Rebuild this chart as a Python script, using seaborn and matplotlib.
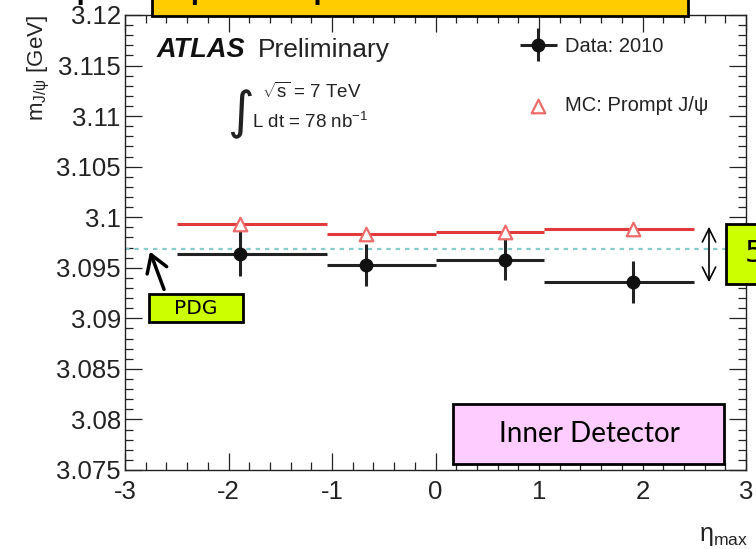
import numpy as np
import pandas as pd
import matplotlib
matplotlib.use("Agg")
import matplotlib.pyplot as plt
import seaborn as sns
from matplotlib.ticker import MultipleLocator, FuncFormatter, FixedLocator
from matplotlib.patches import Rectangle, FancyArrowPatch
from matplotlib.container import ErrorbarContainer
from matplotlib.legend_handler import HandlerErrorbar

# ---------------- data ----------------
bin_lo = [-2.5, -1.05, 0.0, 1.05]
bin_hi = [-1.05, 0.0, 1.05, 2.5]
eta_mean = [-1.89, -0.67, 0.67, 1.91]
data_mass = [3.0964, 3.09525, 3.0958, 3.0936]
data_err = [0.00225, 0.0021, 0.0020, 0.00205]
mc_mass = [3.0993, 3.0983, 3.0985, 3.0988]
pdg_mass = 3.0969
x_ticks = [-3, -2, -1, 0, 1, 2, 3]
y_ticks = [3.075, 3.08, 3.085, 3.09, 3.095, 3.1, 3.105, 3.11, 3.115, 3.12]
legend_labels = ["Data: 2010", "MC: Prompt J/\u03c8"]

df_data = pd.DataFrame({"eta": eta_mean, "m": data_mass, "err": data_err,
                        "lo": bin_lo, "hi": bin_hi})
df_mc = pd.DataFrame({"eta": eta_mean, "m": mc_mass, "lo": bin_lo, "hi": bin_hi})

# ---------------- style ----------------
sns.set_theme(style="ticks")
plt.rcParams["font.family"] = ["Liberation Sans", "DejaVu Sans"]
plt.rcParams["mathtext.fontset"] = "custom"
plt.rcParams["mathtext.rm"] = "Liberation Sans"
plt.rcParams["mathtext.it"] = "Liberation Sans:italic"

W, H = 756, 549
fig = plt.figure(figsize=(W / 100, H / 100), dpi=100)
fig.patch.set_facecolor("white")
ax = fig.add_axes([125 / W, 1 - 470 / H, (746 - 125) / W, (470 - 15) / H])
ax.set_facecolor("white")

RED = "#e23a3a"
TRI = "#f06a6a"

# PDG line
ax.axhline(pdg_mass, color="#86cccc", lw=1.6, ls=(0, (2, 2.2)), zorder=1)

# MC bin lines
ax.hlines(df_mc["m"], df_mc["lo"], df_mc["hi"], color=RED, lw=2.2, zorder=2)

# Data with error bars
xerr = [df_data["eta"] - df_data["lo"], df_data["hi"] - df_data["eta"]]
eb = ax.errorbar(df_data["eta"], df_data["m"], xerr=xerr, yerr=df_data["err"],
                 fmt="o", color="#111111", ecolor="#222222", elinewidth=2.2,
                 ms=9, capsize=0, zorder=4, label=legend_labels[0])

# MC triangles
sns.scatterplot(data=df_mc, x="eta", y="m", marker="^", s=95,
                facecolor="white", edgecolor=TRI, linewidth=1.6,
                zorder=5, ax=ax, label=legend_labels[1])

ax.set_xlim(-3, 3)
ax.set_ylim(3.075, 3.12)
ax.xaxis.set_major_locator(FixedLocator(x_ticks))
ax.xaxis.set_minor_locator(MultipleLocator(0.2))
ax.yaxis.set_major_locator(FixedLocator(y_ticks))
ax.yaxis.set_minor_locator(MultipleLocator(0.001))
ax.yaxis.set_major_formatter(FuncFormatter(lambda v, p: f"{v:g}"))
ax.xaxis.set_major_formatter(FuncFormatter(lambda v, p: f"{v:g}"))
ax.tick_params(which="both", direction="in", top=True, right=True,
               color="#222222", width=0.9)
ax.tick_params(which="major", length=12, labelsize=18.5, labelcolor="#222222")
ax.tick_params(axis="x", which="major", pad=7)
ax.tick_params(axis="y", which="major", pad=3)
ax.tick_params(which="minor", length=6)
for s in ax.spines.values():
    s.set_color("#222222")
    s.set_linewidth(1.0)
ax.grid(False)

ax.set_ylabel(r"m$_{\mathrm{J/\psi}}$ [GeV]", fontsize=16, color="#222222",
              loc="top")
ax.yaxis.set_label_coords(-0.118, 1.0)
ax.set_xlabel("\u03b7$_{\\mathrm{max}}$", fontsize=18, color="#222222", loc="right")
ax.xaxis.set_label_coords(1.003, -0.118)

# legend (Data first, then MC)
handles, labels = ax.get_legend_handles_labels()
order = [labels.index(l) for l in legend_labels]
handles = [handles[i] for i in order]
labels = [labels[i] for i in order]
leg = ax.legend(handles, labels, loc="upper left", bbox_to_anchor=(0.635, 0.952),
                frameon=False, fontsize=14.5, handlelength=1.9,
                handletextpad=0.35, labelspacing=2.0, borderpad=0,
                borderaxespad=0,
                handler_map={ErrorbarContainer: HandlerErrorbar(xerr_size=0.93,
                                                                yerr_size=0.82)})
for t in leg.get_texts():
    t.set_color("#222222")

# ---------------- annotations (figure pixel coords) ----------------
def fp(x, y):
    return (x / W, 1 - y / H)

fig.text(*fp(157, 50), "ATLAS", fontsize=19.5, fontweight="bold",
         fontstyle="italic", va="center", ha="left", color="#111111")
fig.text(*fp(258, 50), "Preliminary", fontsize=19, va="center", ha="left",
         color="#222222")
fig.text(*fp(262, 92), r"$\sqrt{\mathrm{s}}$ = 7 TeV", fontsize=13.5,
         va="center", ha="left", color="#222222")
fig.text(*fp(252, 122), r"L dt = 78 nb$^{\mathrm{-1}}$", fontsize=13.5,
         va="center", ha="left", color="#222222")
fig.text(*fp(240, 114), "\u222b", fontsize=37, va="center", ha="center",
         color="#222222", family=["DejaVu Sans"])

def box(x0, y0, x1, y1, fc):
    r = Rectangle(fp(x0, y1), (x1 - x0) / W, (y1 - y0) / H,
                  transform=fig.transFigure, facecolor=fc, edgecolor="black",
                  lw=2.0, zorder=10, clip_on=False)
    fig.patches.append(r)

# top (clipped) title box
box(152, -40, 688, 16, "#ffcc00")
fig.text(*fp(420, -4), "Compare peak positions in Data and MC", fontsize=32,
         va="baseline", ha="center", color="black", zorder=11,
         family=["DejaVu Sans"])

# PDG box
box(149, 294, 243, 322, "#ccff00")
fig.text(*fp(196, 309), "PDG", fontsize=14.5, va="center", ha="center",
         color="black", zorder=11, family=["DejaVu Sans"])
arr = FancyArrowPatch(fp(165, 292), fp(149, 249), transform=fig.transFigure,
                      arrowstyle="->,head_length=8,head_width=5", lw=2.5,
                      color="black", zorder=11, mutation_scale=1.5)
fig.patches.append(arr)

# right box with double arrow
box(726, 224, 790, 284, "#ccff00")
fig.text(*fp(745, 254), "5 MeV", fontsize=22, va="center", ha="left",
         color="black", zorder=11, family=["DejaVu Sans"])
darr = FancyArrowPatch(fp(709, 224), fp(709, 285), transform=fig.transFigure,
                       arrowstyle="<->,head_length=8,head_width=4", lw=1.2,
                       color="black", zorder=11, mutation_scale=1.2)
fig.patches.append(darr)

# Inner detector box
box(453, 404, 724, 464, "#ffccff")
fig.text(*fp(589, 434), "Inner Detector", fontsize=20, va="center",
         ha="center", color="black", zorder=11, family=["Lato", "DejaVu Sans"])

fig.savefig("out.png", dpi=100, facecolor="white")
